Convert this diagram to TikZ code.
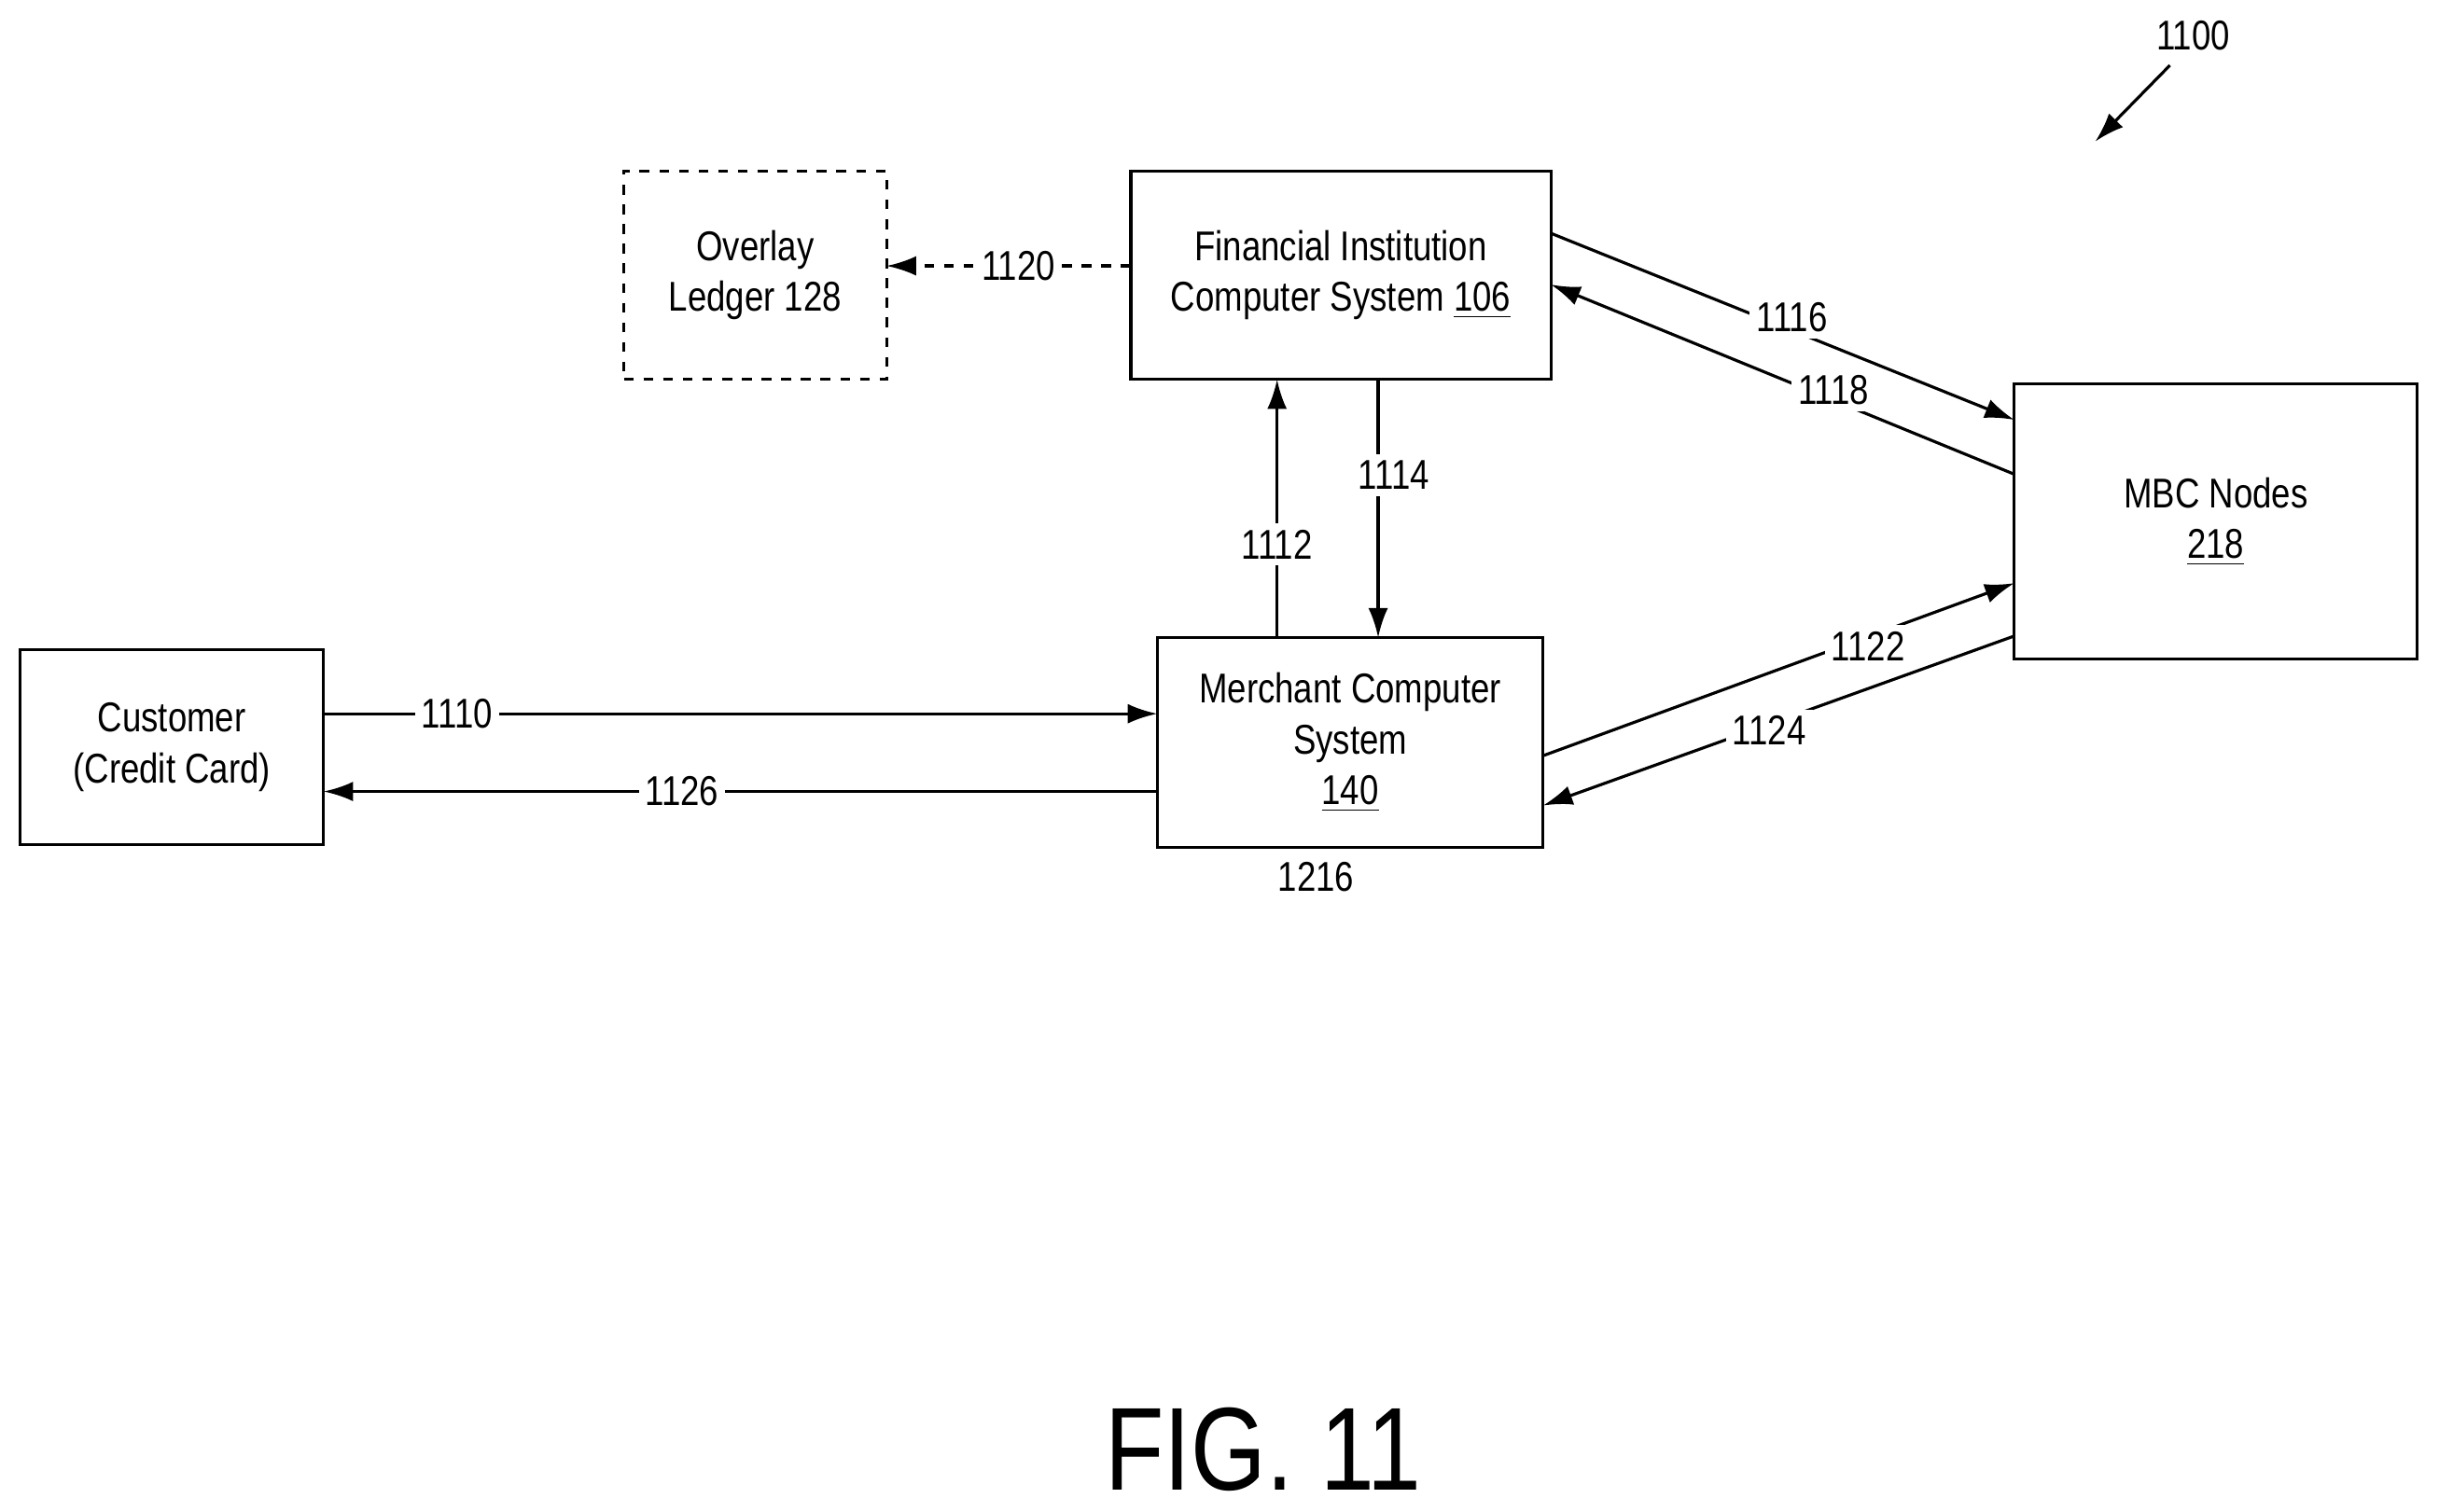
\documentclass[tikz,border=0pt]{standalone}
\usepackage{fontspec}
\setmainfont{Liberation Sans}[FakeStretch=0.82]
\usetikzlibrary{arrows.meta}

\tikzset{
  box/.style={draw, line width=0.9pt, align=center, inner sep=0pt},
  flow/.style={line width=0.9pt, -{Latex[length=9pt,width=6pt]}},
  lbl/.style={fill=white, inner sep=2pt}
}

\begin{document}
\begin{tikzpicture}[x=0.16667mm, y=-0.16667mm, font=\fontsize{12.7}{15.5}\selectfont]
  \useasboundingbox (0,0) rectangle (1568,972);

  %% boxes
  \node[box, dashed, minimum width=169*0.16667mm, minimum height=134*0.16667mm] (ledger) at (485.5,177) {Overlay\\Ledger 128};
  \node[box, minimum width=270*0.16667mm, minimum height=134*0.16667mm] (fics) at (862,177) {Financial Institution\\Computer System \underline{106}};
  \node[box, minimum width=259*0.16667mm, minimum height=177*0.16667mm] (mbc) at (1424.5,335.5) {MBC Nodes\\\underline{218}};
  \node[box, minimum width=248*0.16667mm, minimum height=135*0.16667mm] (merch) at (868,477.5) {Merchant Computer\\System\\\underline{140}};
  \node[box, minimum width=195*0.16667mm, minimum height=125*0.16667mm] (cust) at (110.5,480.5) {Customer\\(Credit Card)};

  %% end points
  \coordinate (c1) at (208,459);   \coordinate (m1) at (744,459);
  \coordinate (m2) at (744,509);   \coordinate (c2) at (208,509);
  \coordinate (m3) at (821,410);   \coordinate (f3) at (821,244);
  \coordinate (f4) at (886,244);   \coordinate (m4) at (886,410);
  \coordinate (f5) at (727,171);   \coordinate (l5) at (570,171);
  \coordinate (f6) at (997,150);   \coordinate (n6) at (1295,270);
  \coordinate (n7) at (1295,305);  \coordinate (f7) at (997,183);
  \coordinate (m8) at (992,486);   \coordinate (n8) at (1295,375);
  \coordinate (n9) at (1295,409);  \coordinate (m9) at (992,518);

  %% connectors
  \draw[flow] (c1) -- (m1) node[lbl, pos=0.16] {1110};
  \draw[flow] (m2) -- (c2) node[lbl, pos=0.57] {1126};
  \draw[flow] (m3) -- (f3) node[lbl, pos=0.36] {1112};
  \draw[flow] (f4) -- (m4) node[lbl, pos=0.37, xshift=10*0.16667mm] {1114};
  \draw[flow, dashed] (f5) -- (l5) node[lbl, pos=0.46] {1120};
  \draw[flow] (f6) -- (n6) node[lbl, pos=0.52, yshift=4pt] {1116};
  \draw[flow] (n7) -- (f7) node[lbl, pos=0.39, yshift=3pt] {1118};
  \draw[flow] (m8) -- (n8) node[lbl, pos=0.69, yshift=-3pt] {1122};
  \draw[flow] (n9) -- (m9) node[lbl, pos=0.52, yshift=-2pt] {1124};

  %% free labels
  \node (ref) at (846,564) {1216};
  \node (fig) at (1410,23) {1100};
  \coordinate (figtip) at (1347,91);
  \draw[flow] (1395,42) -- (figtip);
  \node (title) at (812,932) {\fontsize{36}{40}\selectfont FIG. 11};
\end{tikzpicture}
\end{document}
